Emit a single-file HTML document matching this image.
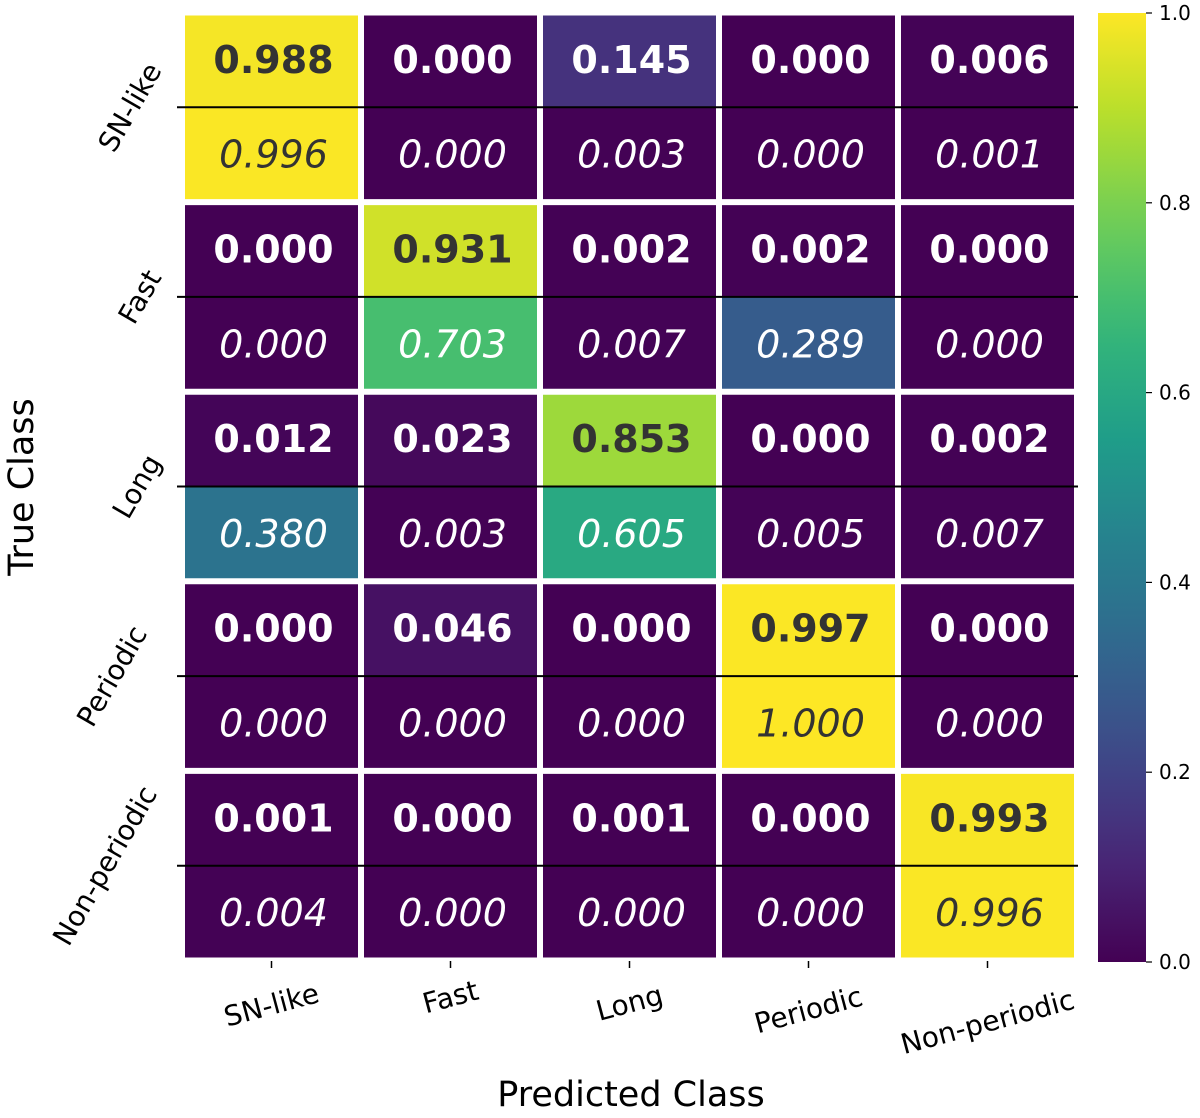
<!DOCTYPE html>
<html><head><meta charset="utf-8"><style>
html,body{margin:0;padding:0;background:#fff;}
svg text{font-family:"DejaVu Sans","Liberation Sans",sans-serif;}
</style></head><body>
<svg id="chart" width="1200" height="1113" xmlns="http://www.w3.org/2000/svg">
<defs><linearGradient id="vir" x1="0" y1="1" x2="0" y2="0"></linearGradient></defs>
<g id="cells"></g>
<g id="axes"></g>
</svg>
<script>
const classes = ["SN-like","Fast","Long","Periodic","Non-periodic"];
const topValues = [
 [0.988,0.000,0.145,0.000,0.006],
 [0.000,0.931,0.002,0.002,0.000],
 [0.012,0.023,0.853,0.000,0.002],
 [0.000,0.046,0.000,0.997,0.000],
 [0.001,0.000,0.001,0.000,0.993]];
const bottomValues = [
 [0.996,0.000,0.003,0.000,0.001],
 [0.000,0.703,0.007,0.289,0.000],
 [0.380,0.003,0.605,0.005,0.007],
 [0.000,0.000,0.000,1.000,0.000],
 [0.004,0.000,0.000,0.000,0.996]];
const cbTicks = [0.0,0.2,0.4,0.6,0.8,1.0];

const NS="http://www.w3.org/2000/svg";
const VIR=[[68,1,84],[72,40,120],[62,74,137],[49,104,142],[38,130,142],[31,158,137],[53,183,121],[109,205,89],[180,222,44],[253,231,37]];
function viridis(t){t=Math.max(0,Math.min(1,t));const p=t*9,i=Math.min(8,Math.floor(p)),f=p-i;
 const c=VIR[i].map((v,k)=>Math.round(v+(VIR[i+1][k]-v)*f));return `rgb(${c[0]},${c[1]},${c[2]})`;}
const gx0=182,gy0=12.5,cw=179,ch=189.6;
const xc=j=>gx0+cw*(j+0.5), yr=i=>gy0+ch*i;
function el(tag,attrs,parent){const e=document.createElementNS(NS,tag);for(const k in attrs)e.setAttribute(k,attrs[k]);parent.appendChild(e);return e;}
const cells=document.getElementById('cells'), axes=document.getElementById('axes');
for(let i=0;i<5;i++)for(let j=0;j<5;j++){
 [[topValues,0,'bold','normal'],[bottomValues,1,'normal','italic']].forEach(([arr,h,fw,fs])=>{
  const v=arr[i][j];
  const r=el('rect',{x:gx0+cw*j,y:yr(i)+h*ch/2,width:cw,height:ch/2,fill:viridis(v)},cells);
  
  
  const t=el('text',{x:xc(j)+2,y:yr(i)+h*ch/2+ch/4+13,'text-anchor':'middle','font-size':38,'font-weight':fw,'font-style':fs,fill:v>0.8?'#333':'#fff'},cells);
  t.textContent=v.toFixed(3);
  
  
 });
}
for(let k=0;k<=5;k++){
 el('line',{x1:gx0+cw*k,y1:gy0,x2:gx0+cw*k,y2:gy0+ch*5,stroke:'#fff','stroke-width':6},cells);
 el('line',{x1:gx0,y1:yr(k),x2:gx0+cw*5,y2:yr(k),stroke:'#fff','stroke-width':6},cells);
}
for(let i=0;i<5;i++){
 const l=el('line',{x1:177,y1:yr(i)+ch/2,x2:1078,y2:yr(i)+ch/2,stroke:'#000','stroke-width':2},axes);
 
 
}
const xoff=[130,140,137,112,105];
classes.forEach((c,i)=>{
 const cy=yr(i)+ch/2, cx=xoff[i];
 const t=el('text',{x:cx,y:cy,'text-anchor':'middle','dominant-baseline':'central','font-size':28,transform:`rotate(-60 ${cx} ${cy})`},axes);
 t.textContent=c;
 
 
});
const xly=[1005,997,1003,1010,1022];
classes.forEach((c,j)=>{
 el('line',{x1:xc(j),y1:961,x2:xc(j),y2:968,stroke:'#000','stroke-width':1.5},axes);
 const t=el('text',{x:xc(j),y:xly[j],'text-anchor':'middle','dominant-baseline':'central','font-size':28,transform:`rotate(-15 ${xc(j)} ${xly[j]})`},axes);
 t.textContent=c;
 
 
});
let t=el('text',{x:33,y:487,'text-anchor':'middle','font-size':35,transform:'rotate(-90 33 487)'},axes);
t.textContent='True Class';


t=el('text',{x:631,y:1106,'text-anchor':'middle','font-size':35},axes);
t.textContent='Predicted Class';


const g=document.getElementById('vir');
for(let k=0;k<=20;k++){el('stop',{offset:k/20,'stop-color':viridis(k/20)},g);}
const cbx=1098,cbw=48,cbTop=13,cbBot=962;
const cb=el('rect',{x:cbx,y:cbTop,width:cbw,height:cbBot-cbTop,fill:'url(#vir)'},axes);


cbTicks.forEach(v=>{
 const y=cbBot-(cbBot-cbTop)*v;
 el('line',{x1:cbx+cbw,y1:y,x2:cbx+cbw+6,y2:y,stroke:'#000','stroke-width':1.2},axes);
 const tt=el('text',{x:cbx+cbw+13,y:y,'dominant-baseline':'central','font-size':20},axes);
 tt.textContent=v.toFixed(1);
 
 
});
</script>
</body></html>
